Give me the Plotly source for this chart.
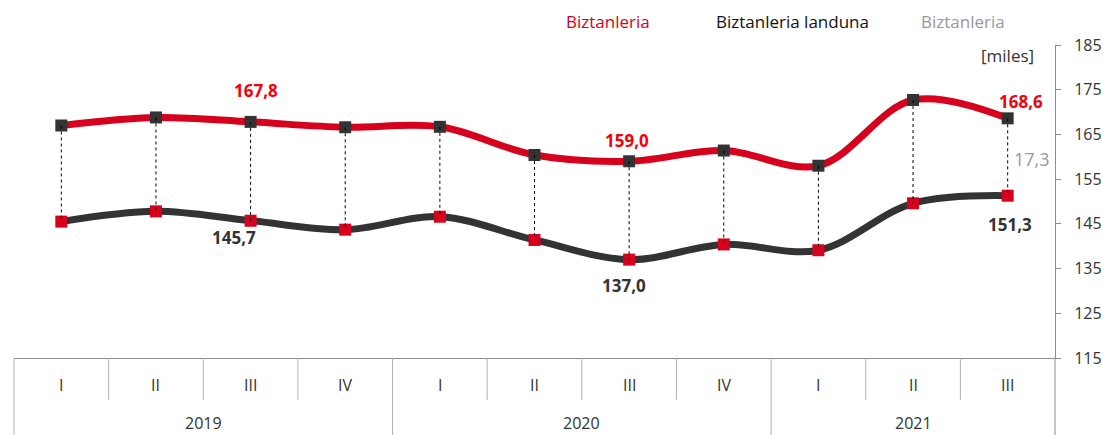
import plotly.graph_objects as go

# ---- data ----
quarters = ["I", "II", "III", "IV", "I", "II", "III", "IV", "I", "II", "III"]
years = ["2019", "2020", "2021"]
year_span = [4, 4, 3]  # quarters per year
total = [167.0, 168.8, 167.8, 166.6, 166.7, 160.4, 159.0, 161.4, 158.0, 172.7, 168.6]
employed = [145.5, 147.8, 145.7, 143.7, 146.6, 141.4, 137.0, 140.4, 139.1, 149.6, 151.3]
y_ticks = [115, 125, 135, 145, 155, 165, 175, 185]

# labelled points (index -> shown)
total_labels = {2: "167,8", 6: "159,0", 10: "168,6"}
employed_labels = {2: "145,7", 6: "137,0", 10: "151,3"}

RED = "#D7001D"
RED_TXT = "#F40009"
DARK = "#333333"
GRAY = "#999999"
LINE_GRAY = "#8C8C8C"
SEP_GRAY = "#B0B0B0"
FONT = "Open Sans"

x = list(range(len(quarters)))

fig = go.Figure()

# employed line (dark) with red markers
fig.add_trace(go.Scatter(
    x=x, y=employed, mode="lines+markers",
    line=dict(color=DARK, width=7, shape="spline", smoothing=1.0),
    marker=dict(symbol="square", size=12, color=RED),
    hoverinfo="skip", showlegend=False))

# total line (red) with dark markers
fig.add_trace(go.Scatter(
    x=x, y=total, mode="lines+markers",
    line=dict(color=RED, width=7, shape="spline", smoothing=1.0),
    marker=dict(symbol="square", size=12, color=DARK),
    hoverinfo="skip", showlegend=False))

# dotted connectors
cx, cy = [], []
for i in x:
    cx += [i, i, None]
    cy += [total[i], employed[i], None]
fig.add_trace(go.Scatter(
    x=cx, y=cy, mode="lines",
    line=dict(color="#000000", width=1, dash="dot"),
    hoverinfo="skip", showlegend=False))

annotations = []
# data labels (label offsets in pixels)
tot_shift = {2: (5, 31), 6: (-2, 21), 10: (13, 17)}
for i, t in total_labels.items():
    dx, dy = tot_shift[i]
    annotations.append(dict(x=i, y=total[i], xref="x", yref="y", text=f"<b>{t}</b>",
                            showarrow=False, xshift=dx, yshift=dy, xanchor="center", yanchor="middle",
                            font=dict(family=FONT, size=17, color=RED_TXT)))
emp_shift = {2: (-17, -17), 6: (-5, -26), 10: (2, -29)}
for i, t in employed_labels.items():
    dx, dy = emp_shift[i]
    annotations.append(dict(x=i, y=employed[i], xref="x", yref="y", text=f"<b>{t}</b>",
                            showarrow=False, xshift=dx, yshift=dy, xanchor="center", yanchor="middle",
                            font=dict(family=FONT, size=17, color=DARK)))
# gap label at last point
last = len(x) - 1
gap = total[last] - employed[last]
annotations.append(dict(x=last, y=(total[last] + employed[last]) / 2, xref="x", yref="y",
                        text=f"{gap:.1f}".replace(".", ","), showarrow=False, xshift=24, yshift=-2,
                        xanchor="center", yanchor="middle",
                        font=dict(family=FONT, size=18, color=GRAY)))

# legend-like headers
hdr = dict(xref="paper", yref="paper", showarrow=False, xanchor="center", yanchor="middle")
annotations += [
    dict(x=0.5706, y=1.0735, text="Biztanleria", font=dict(family=FONT, size=17, color=RED), **hdr),
    dict(x=0.748, y=1.0735, text="Biztanleria landuna", font=dict(family=FONT, size=17, color="#111111"), **hdr),
    dict(x=0.9116, y=1.0735, text="Biztanleria", font=dict(family=FONT, size=17, color=GRAY), **hdr),
    dict(x=0.954, y=0.968, text="[miles]", font=dict(family=FONT, size=17, color=DARK), **hdr),
]

# category axis labels
for i, q in enumerate(quarters):
    annotations.append(dict(x=i, y=-0.086, xref="x", yref="paper", text=q, showarrow=False,
                            xanchor="center", yanchor="middle",
                            font=dict(family=FONT, size=16, color=DARK)))
start = 0
shapes = []
for yr, n in zip(years, year_span):
    center = start + (n - 1) / 2
    annotations.append(dict(x=center, y=-0.207, xref="x", yref="paper", text=yr, showarrow=False,
                            xanchor="center", yanchor="middle", borderpad=0,
                            font=dict(family=FONT, size=16, color=DARK)))
    start += n

# separators
boundaries = set()
acc = 0
for n in year_span[:-1]:
    acc += n
    boundaries.add(acc)
for i in range(1, len(quarters)):
    is_year = i in boundaries
    shapes.append(dict(type="line", xref="x", yref="paper", x0=i - 0.5, x1=i - 0.5,
                       y0=0, y1=(-0.25 if is_year else -0.134),
                       line=dict(color=SEP_GRAY, width=1)))
# outer edges
shapes.append(dict(type="line", xref="paper", yref="paper", x0=0, x1=0, y0=0, y1=-0.25,
                   line=dict(color=SEP_GRAY, width=1)))
shapes.append(dict(type="line", xref="paper", yref="paper", x0=1, x1=1, y0=0, y1=-0.25,
                   line=dict(color=LINE_GRAY, width=1)))

fig.update_layout(
    width=1103, height=435,
    margin=dict(l=14, r=48, t=45, b=77, autoexpand=False),
    paper_bgcolor="white", plot_bgcolor="white",
    annotations=annotations, shapes=shapes,
    xaxis=dict(range=[-0.5, len(quarters) - 0.5], showgrid=False, zeroline=False, automargin=False,
               showticklabels=False, ticks="", showline=True, linecolor=LINE_GRAY, linewidth=1),
    yaxis=dict(range=[115, 185], side="right", tickvals=y_ticks, showgrid=False, zeroline=False,
               automargin=False,
               showline=True, linecolor=LINE_GRAY, linewidth=1, ticks="outside", ticklen=5,
               tickcolor=LINE_GRAY, ticklabelstandoff=10,
               tickfont=dict(family=FONT, size=16, color=DARK)),
    font=dict(family=FONT),
)

fig.write_html("out.html", config={"displayModeBar": False},
               post_script="document.body.style.margin='0px';")
